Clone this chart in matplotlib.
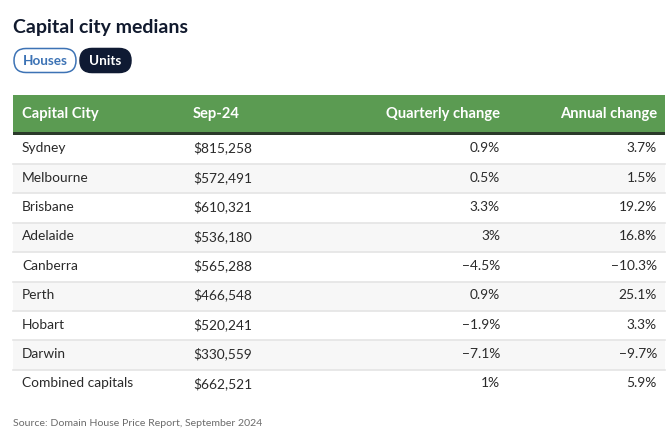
import matplotlib
matplotlib.use("Agg")
import matplotlib.pyplot as plt
from matplotlib.patches import FancyBboxPatch, Rectangle

title = "Capital city medians"
toggle_labels = ["Houses", "Units"]
columns = ["Capital City", "Sep-24", "Quarterly change", "Annual change"]
cities = ["Sydney", "Melbourne", "Brisbane", "Adelaide", "Canberra", "Perth",
          "Hobart", "Darwin", "Combined capitals"]
prices = ["$815,258", "$572,491", "$610,321", "$536,180", "$565,288", "$466,548",
          "$520,241", "$330,559", "$662,521"]
quarterly = ["0.9%", "0.5%", "3.3%", "3%", "\u22124.5%", "0.9%", "\u22121.9%", "\u22127.1%", "1%"]
annual = ["3.7%", "1.5%", "19.2%", "16.8%", "\u221210.3%", "25.1%", "3.3%", "\u22129.7%", "5.9%"]
source = "Source: Domain House Price Report, September 2024"

FONT = "Lato"
W, H = 668, 442
fig = plt.figure(figsize=(W / 100, H / 100), dpi=100)
ax = fig.add_axes([0, 0, 1, 1])
ax.set_xlim(0, W)
ax.set_ylim(H, 0)
ax.axis("off")

px = 72 / 100  # points per pixel

# Title
ax.text(13, 27, title, fontsize=19.5 * px, fontweight="bold", color="#111a2e",
        family=FONT, va="center", ha="left")

# Toggle buttons
b1 = FancyBboxPatch((14, 48.5), 62, 24, boxstyle="round,pad=0,rounding_size=12",
                    facecolor="white", edgecolor="#3d73b5", linewidth=1.1)
ax.add_patch(b1)
ax.text(45, 61, toggle_labels[0], fontsize=13.5 * px, fontweight="bold", color="#3d73b5",
        family=FONT, va="center", ha="center")
b2 = FancyBboxPatch((80, 48.5), 51, 24, boxstyle="round,pad=0,rounding_size=12",
                    facecolor="#0f1a33", edgecolor="#0f1a33", linewidth=1.1)
ax.add_patch(b2)
ax.text(105.5, 61, toggle_labels[1], fontsize=13.5 * px, fontweight="bold", color="white",
        family=FONT, va="center", ha="center")

# Header
left, right = 13, 665
ax.add_patch(Rectangle((left, 95), right - left, 37, facecolor="#5b9b52", edgecolor="none"))
ax.add_patch(Rectangle((left, 132), right - left, 2.5, facecolor="#2b3a2a", edgecolor="none"))
col_x = [22, 193, 500, 657]
col_ha = ["left", "left", "right", "right"]
for c, x, ha in zip(columns, col_x, col_ha):
    ax.text(x, 114, c, fontsize=14.7 * px, fontweight="bold", color="white",
            family=FONT, va="center", ha=ha)

# Rows
top = 134.5
rh = 29.4
for i in range(len(cities)):
    y0 = top + i * rh
    if i % 2 == 1:
        ax.add_patch(Rectangle((left, y0), right - left, rh, facecolor="#f7f7f7", edgecolor="none"))
    if i < len(cities) - 1:
        ax.plot([left, right], [y0 + rh, y0 + rh], color="#e4e4e4", lw=1.2)
    yc = y0 + rh / 2 - 1
    vals = [cities[i], prices[i], quarterly[i], annual[i]]
    for v, x, ha in zip(vals, col_x, col_ha):
        ax.text(x, yc, v, fontsize=13.7 * px, color="#2a2a2a", family=FONT,
                va="center", ha=ha)

# Source
ax.text(13, 423, source, fontsize=10.5 * px, color="#6b6b6b", family=FONT,
        va="center", ha="left")

fig.savefig("out.png", dpi=100)
